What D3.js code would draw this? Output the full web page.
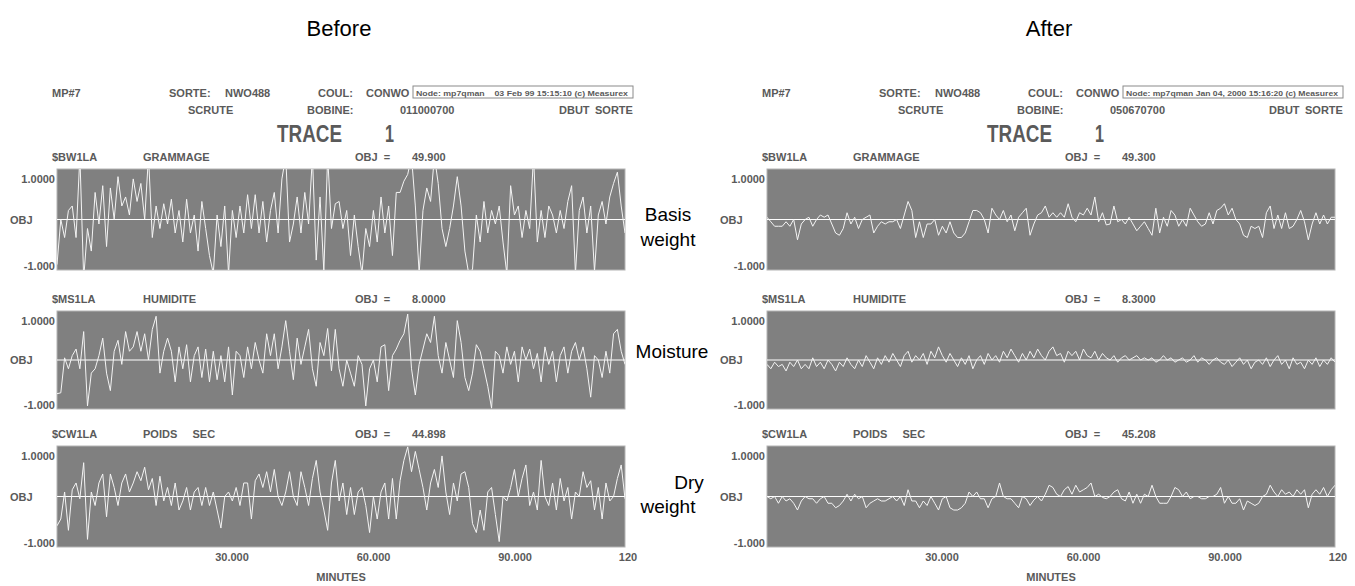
<!DOCTYPE html>
<html>
<head>
<meta charset="utf-8">
<script src="https://cdn.jsdelivr.net/npm/d3@7"></script>
<style>
  body { margin: 0; background: #fff; }
  svg text { font-family: "Liberation Sans", Arial, sans-serif; }
  .lbl { font-weight: bold; font-size: 11px; fill: #5a5a5a; white-space: pre; }
  .title { font-size: 22px; fill: #000; }
  .note { font-size: 19px; fill: #000; }
</style>
</head>
<body>
<svg id="chart" width="1355" height="586"></svg>
<script>
// ---- données ----
const panelTitles = ['Before', 'After']
const nodeStamps = [
  'Node: mp7qman    03 Feb 99 15:15:10 (c) Measurex',
  'Node: mp7qman Jan 04, 2000 15:16:20 (c) Measurex',
]
const bobines = ['011000700', '050670700']
const traceTags = ['$BW1LA', '$MS1LA', '$CW1LA']
const traceNames = ['GRAMMAGE', 'HUMIDITE', 'POIDS     SEC']
const objBefore = ['49.900', '8.0000', '44.898']
const objAfter = ['49.300', '8.3000', '45.208']
const sideNotes = [['Basis', 'weight'], ['Moisture'], ['Dry', 'weight']]
const yTicks = [1, -1]
const yTickLabels = ['1.0000', '-1.000']
const xTicks = [30, 60, 90]
const xTickLabels = ['30.000', '60.000', '90.000']
const xEndLabel = '120'

const bwBefore = [
  -1.0, 0.0, -0.4, 0.2, 0.3, -0.4, 1.4, -1.3, -0.2, -0.7,
  0.6, -0.1, 0.75, -0.6, 0.7, 0.0, 0.95, 0.3, 0.5, 0.1,
  0.9, 0.4, 0.8, 0.0, 1.4, -0.4, 0.3, -0.2, 0.35, -0.1,
  0.45, -0.3, 0.2, -0.5, 0.45, -0.3, 0.1, -0.7, 0.4, -0.2,
  -0.8, -1.2, 0.1, -0.6, 0.3, -1.2, 0.2, -0.4, 0.3, -0.3,
  0.55, -0.2, 0.55, -0.3, 0.4, -0.5, 0.2, 0.6, -0.3, 0.9,
  1.4, -0.5, -0.1, 0.5, -0.3, 0.6, -0.1, 1.4, -0.9, 0.5,
  -1.15, 1.4, -0.2, 0.35, 0.4, -0.2, 0.2, -0.8, 0.1, -0.6,
  -1.2, -0.2, -0.6, 0.2, -0.5, 0.5, -0.3, 0.3, -0.8, 0.6,
  0.6, 0.85, 1.0, 1.4, 0.3, -1.2, 0.2, 0.7, 0.4, 1.4,
  0.8, -0.2, -0.6, -0.2, 0.3, 0.95, 0.3, -0.7, -1.2, -1.1,
  0.1, -0.5, 0.4, -0.3, 0.2, -0.1, 0.3, -0.5, -1.2, 0.75,
  0.1, 0.3, -0.4, 0.2, -0.2, 1.4, -0.5, 0.2, -0.4, 0.3,
  0.1, -0.3, 0.2, -0.2, 0.4, 0.75, -1.2, 0.2, 0.5, -0.3,
  0.3, -1.15, 0.1, 0.4, -0.1, 0.5, 0.8, 1.05, 0.3, -0.3,
]
const msBefore = [
  -0.77, -0.75, 0.05, -0.2, 0.1, 0.25, -0.2, 0.65, -1.05, -0.3,
  -0.2, 0.1, 0.5, -0.3, -0.7, 0.2, 0.45, -0.1, 0.65, 0.2,
  0.3, 0.65, 0.2, 0.6, 0.0, 0.7, 1.0, -0.3, 0.2, 0.5,
  0.2, -0.5, 0.3, -0.2, 0.35, -0.5, 0.1, 0.3, -0.4, 0.25,
  -0.5, 0.2, -0.45, 0.1, -0.5, 0.3, -0.8, 0.2, 0.1, -0.4,
  0.3, -0.2, 0.4, 0.0, -0.3, 0.6, 0.1, 0.6, -0.2, 0.3,
  0.9, 0.2, -0.45, 0.5, -0.1, 0.3, 0.7, -0.2, -0.6, 0.4,
  0.1, 0.72, -0.25, 0.7, -0.2, -0.6, 0.0, -0.3, -0.6, 0.1,
  -0.1, -1.05, -0.2, 0.0, -0.5, 0.3, 0.35, -0.7, 0.1, 0.25,
  0.45, 0.6, 1.05, -0.2, -0.8, -0.1, 0.25, 0.6, 0.4, 1.0,
  0.1, -0.3, 0.4, 0.0, -0.4, 0.9, 0.4, -0.4, -0.7, -0.3,
  0.35, 0.2, -0.2, -0.6, -1.1, 0.2, 0.1, -0.3, 0.3, -0.1,
  0.2, -0.5, 0.3, 0.0, 0.25, -0.2, 0.15, -0.5, 0.3, -0.1,
  0.2, -0.5, 0.1, 0.3, -0.3, 0.2, 0.4, 0.0, 0.3, -0.2,
  -0.85, 0.1, 0.0, -0.4, 0.2, -0.3, 0.6, 0.7, 0.2, -0.1,
]
const cwBefore = [
  -0.65, -0.5, 0.1, -0.75, 0.15, 0.3, -0.05, 0.75, -0.95, 0.1,
  -0.2, 0.3, 0.5, -0.45, 0.5, 0.2, -0.2, 0.3, 0.5, 0.1,
  0.3, 0.55, 0.35, 0.65, 0.15, 0.4, -0.2, 0.45, -0.1, 0.2,
  -0.2, 0.3, -0.3, -0.1, 0.2, -0.3, 0.1, 0.2, -0.2, 0.2,
  -0.2, 0.1, -0.3, -0.7, 0.0, 0.1, -0.1, 0.2, -0.2, 0.3,
  0.3, -0.5, 0.35, 0.5, 0.2, 0.55, 0.1, 0.6, 0.0, -0.2,
  0.1, 0.55, 0.0, -0.2, 0.55, 0.2, -0.2, 0.4, 0.8, 0.1,
  -0.3, -0.75, 0.3, 0.8, -0.1, 0.3, -0.4, 0.2, -0.4, 0.1,
  0.2, -0.2, -0.8, 0.0, -0.5, 0.1, 0.3, -0.5, 0.4, -0.5,
  0.35, 0.8, 1.1, 0.55, 1.0, 0.6, 0.2, -0.3, 0.3, 0.6,
  0.2, 0.9, 0.1, -0.4, 0.3, -0.1, 0.5, 0.55, 0.2, -0.6,
  -0.8, -0.3, -0.75, 0.1, 0.2, -0.4, -1.0, 0.0, -0.1, 0.2,
  0.6, 0.0, 0.4, 0.7, -0.2, 0.1, -0.3, 0.8, 0.0, -0.2,
  0.3, -0.3, 0.4, -0.1, 0.2, -0.5, 0.1, 0.0, 0.55, 0.2,
  0.35, -0.3, 0.2, -0.5, 0.3, -0.1, 0.0, 0.4, 0.7, -0.05,
]
const bwAfter = [
  0.05, -0.05, -0.15, -0.15, -0.15, -0.05, -0.15, 0.0, -0.45, -0.1,
  0.0, 0.05, -0.15, 0.0, 0.1, 0.05, 0.1, -0.1, -0.3, -0.35,
  -0.2, 0.15, -0.1, 0.05, -0.2, 0.0, 0.05, 0.1, -0.3, -0.15,
  -0.05, -0.1, -0.05, -0.05, 0.0, -0.2, 0.1, 0.4, 0.2, -0.4,
  -0.05, -0.4, -0.1, -0.1, 0.0, -0.35, -0.15, -0.3, -0.05, -0.3,
  -0.4, -0.4, -0.3, -0.05, 0.2, 0.2, 0.15, 0.0, -0.3, 0.25,
  0.1, 0.0, 0.2, -0.05, 0.1, -0.25, 0.05, 0.15, 0.25, -0.35,
  -0.1, 0.1, 0.15, 0.3, 0.05, 0.15, 0.05, 0.15, 0.05, 0.35,
  0.05, -0.05, 0.15, 0.1, 0.25, 0.1, 0.5, -0.05, 0.15, -0.12,
  -0.1, 0.3, -0.05, 0.0, -0.1, 0.05, -0.1, -0.25, -0.15, -0.05,
  -0.2, -0.35, 0.25, -0.3, 0.05, -0.15, 0.2, 0.1, -0.15, 0.0,
  -0.15, 0.25, 0.1, -0.05, -0.15, -0.1, 0.15, -0.1, 0.2, 0.25,
  0.35, 0.1, 0.25, 0.0, -0.1, -0.35, -0.4, -0.15, -0.2, -0.15,
  -0.4, 0.15, 0.3, -0.2, 0.1, -0.2, 0.15, -0.2, -0.15, 0.0,
  0.2, -0.05, -0.45, -0.1, 0.15, -0.1, 0.1, -0.1, 0.05, 0.05,
]
const msAfter = [
  -0.1, -0.2, -0.05, -0.15, -0.1, -0.25, -0.05, -0.15, 0.0, -0.2,
  -0.1, -0.2, 0.05, -0.15, -0.05, -0.2, 0.0, -0.1, -0.25, -0.05,
  -0.15, 0.05, -0.1, -0.2, 0.0, -0.15, 0.1, -0.05, -0.2, 0.05,
  -0.1, 0.1, -0.05, 0.15, 0.0, -0.15, 0.1, 0.2, -0.05, 0.1,
  0.0, 0.15, -0.1, 0.2, 0.05, 0.3, 0.1, -0.05, 0.15, 0.0,
  -0.15, 0.05, -0.1, 0.1, -0.2, 0.0, 0.1, -0.1, 0.15, 0.0,
  0.1, -0.05, 0.2, 0.05, 0.25, 0.1, -0.05, 0.15, 0.0, 0.2,
  0.05, 0.25, 0.1, 0.0, 0.2, 0.3, 0.1, 0.15, -0.05, 0.2,
  0.1, 0.2, 0.0, 0.25, 0.1, 0.05, 0.2, 0.0, 0.15, 0.05,
  0.0, 0.1, -0.05, 0.05, 0.1, 0.0, 0.05, 0.1, 0.0, 0.05,
  0.0, 0.05, -0.05, 0.0, 0.1, 0.0, 0.05, -0.05, 0.0, 0.05,
  -0.05, 0.0, 0.1, -0.05, 0.05, 0.0, -0.1, 0.0, 0.05, -0.05,
  -0.1, 0.0, -0.15, -0.05, 0.05, -0.1, 0.0, -0.2, -0.05, 0.0,
  -0.1, 0.05, -0.15, 0.0, 0.1, -0.1, 0.0, -0.2, 0.05, -0.1,
  -0.05, -0.2, 0.0, -0.1, 0.05, -0.15, 0.0, -0.1, 0.05, -0.05,
]
const cwAfter = [
  0.0, -0.05, 0.0, -0.15, 0.0, -0.1, -0.05, -0.15, -0.3, -0.1,
  0.0, -0.05, -0.05, -0.15, -0.05, 0.0, -0.15, -0.15, -0.25, -0.2,
  -0.1, 0.05, -0.1, 0.05, -0.05, 0.0, -0.25, -0.15, -0.1, -0.05,
  -0.1, -0.1, -0.05, 0.0, -0.1, 0.0, -0.2, 0.15, -0.1, -0.1,
  -0.25, -0.1, -0.2, 0.0, -0.15, -0.3, -0.05, 0.0, -0.25, -0.3,
  -0.3, -0.25, -0.15, 0.1, 0.0, 0.1, -0.05, -0.05, -0.25, -0.05,
  0.0, 0.3, 0.0, -0.05, -0.05, -0.15, -0.25, 0.0, -0.05, -0.2,
  -0.08, 0.0, -0.1, 0.05, 0.25, 0.2, 0.05, 0.0, 0.15, 0.22,
  0.05, 0.25, 0.1, 0.15, 0.2, 0.3, 0.0, 0.05, -0.02, -0.05,
  0.0, 0.1, 0.15, -0.05, -0.1, 0.1, -0.15, 0.05, -0.15, 0.05,
  0.0, 0.25, 0.0, -0.15, -0.15, -0.15, 0.0, 0.2, 0.15, 0.0,
  0.1, -0.05, 0.0, 0.0, -0.05, -0.05, 0.0, 0.0, 0.05, 0.2,
  -0.15, 0.0, -0.15, -0.15, -0.05, -0.3, -0.1, -0.15, -0.2, -0.15,
  0.0, 0.05, 0.25, 0.1, 0.0, 0.15, 0.05, 0.1, 0.0, 0.15,
  0.05, 0.15, -0.25, 0.05, 0.15, 0.05, 0.2, 0.0, 0.15, 0.25,
]

// ---- mise en page ----
const svg = d3.select('#chart')
const plotLeft = 57, plotRight = 625, panelShift = 710
const rows = [
  { top: 169, bottom: 270 },
  { top: 311, bottom: 409 },
  { top: 446, bottom: 547 },
]
// position des annotations centrales : [x, y de la ligne de base]
const notePos = [
  [[668, 221], [668, 246]],
  [[672, 358]],
  [[689, 489], [668, 513]],
]
const xDomain = [-7.1, 113.3]
const x = d3.scaleLinear().domain(xDomain).range([plotLeft, plotRight])

const panelSeries = [[bwBefore, msBefore, cwBefore], [bwAfter, msAfter, cwAfter]]
const panelObj = [objBefore, objAfter]

function label(g, px, py, txt, anchor) {
  return g.append('text').attr('class', 'lbl')
    .attr('x', px).attr('y', py)
    .attr('text-anchor', anchor || 'start')
    .text(txt)
}

function drawPanel(p) {
  const g = svg.append('g').attr('transform', `translate(${p * panelShift},0)`)

  g.append('text').attr('class', 'title')
    .attr('x', 339).attr('y', 36).attr('text-anchor', 'middle')
    .text(panelTitles[p])

  // en-tête
  label(g, 52, 97, 'MP#7')
  label(g, 169, 97, 'SORTE:')
  label(g, 225, 97, 'NWO488')
  label(g, 318, 97, 'COUL:')
  label(g, 366, 97, 'CONWO')
  g.append('text')
    .attr('x', 416).attr('y', 95.5)
    .attr('font-size', 7.5).attr('font-weight', 'bold').attr('fill', '#5a5a5a')
    .attr('textLength', 212).attr('lengthAdjust', 'spacingAndGlyphs')
    .style('white-space', 'pre')
    .text(nodeStamps[p])
  g.append('rect')
    .attr('x', 413).attr('y', 86).attr('width', 220).attr('height', 12)
    .attr('fill', 'none').attr('stroke', '#8a8a8a').attr('stroke-width', 1)
  label(g, 188, 114, 'SCRUTE')
  label(g, 307, 114, 'BOBINE:')
  label(g, 400, 114, bobines[p])
  label(g, 559, 114, 'DBUT')
  label(g, 595, 114, 'SORTE')

  g.append('text')
    .attr('x', 277).attr('y', 142)
    .attr('font-size', 24).attr('font-weight', 'bold').attr('fill', '#5a5a5a')
    .attr('textLength', 65).attr('lengthAdjust', 'spacingAndGlyphs')
    .text('TRACE')
  g.append('text')
    .attr('x', 385).attr('y', 142)
    .attr('font-size', 24).attr('font-weight', 'bold').attr('fill', '#5a5a5a')
    .attr('textLength', 9).attr('lengthAdjust', 'spacingAndGlyphs')
    .text('1')

  rows.forEach((r, k) => {
    const y = d3.scaleLinear().domain([-1.12, 1.12]).range([r.bottom, r.top])
    const data = panelSeries[p][k]
    const step = (xDomain[1] - xDomain[0]) / (data.length - 1)

    label(g, 52, r.top - 8, traceTags[k])
    label(g, 143, r.top - 8, traceNames[k])
    label(g, 355, r.top - 8, 'OBJ  =')
    label(g, 412, r.top - 8, panelObj[p][k])

    const clipId = `clip-${p}-${k}`
    g.append('clipPath').attr('id', clipId)
      .append('rect')
      .attr('x', plotLeft).attr('y', r.top)
      .attr('width', plotRight - plotLeft).attr('height', r.bottom - r.top)

    g.append('rect')
      .attr('x', plotLeft).attr('y', r.top)
      .attr('width', plotRight - plotLeft).attr('height', r.bottom - r.top)
      .attr('fill', '#808080').attr('stroke', '#b4b4b4').attr('stroke-width', 1)

    // ligne de l'objectif
    g.append('line')
      .attr('x1', plotLeft).attr('x2', plotRight)
      .attr('y1', y(0)).attr('y2', y(0))
      .attr('stroke', '#ffffff').attr('stroke-width', 1.2)

    const line = d3.line()
      .x((d, i) => x(xDomain[0] + i * step))
      .y(d => y(d))

    g.append('path')
      .datum(data)
      .attr('clip-path', `url(#${clipId})`)
      .attr('fill', 'none')
      .attr('stroke', '#f4f4f4')
      .attr('stroke-width', 1)
      .attr('stroke-linejoin', 'round')
      .attr('d', line)

    // étiquettes de l'axe vertical
    yTicks.forEach((v, j) => {
      label(g, plotLeft - 2, y(v) + (j === 0 ? 9 : 5), yTickLabels[j], 'end')
    })
    label(g, 10, y(0) + 4, 'OBJ')

    // annotations au milieu
    if (p === 0) {
      sideNotes[k].forEach((t, j) => {
        g.append('text').attr('class', 'note')
          .attr('x', notePos[k][j][0]).attr('y', notePos[k][j][1])
          .attr('text-anchor', 'middle')
          .text(t)
      })
    }
  })

  // axe du temps
  xTicks.forEach((v, j) => {
    label(g, x(v), 561, xTickLabels[j], 'middle')
  })
  label(g, plotRight + 3, 561, xEndLabel, 'middle')
  label(g, 341, 581, 'MINUTES', 'middle')
}

panelTitles.forEach((t, p) => drawPanel(p))
</script>
</body>
</html>
